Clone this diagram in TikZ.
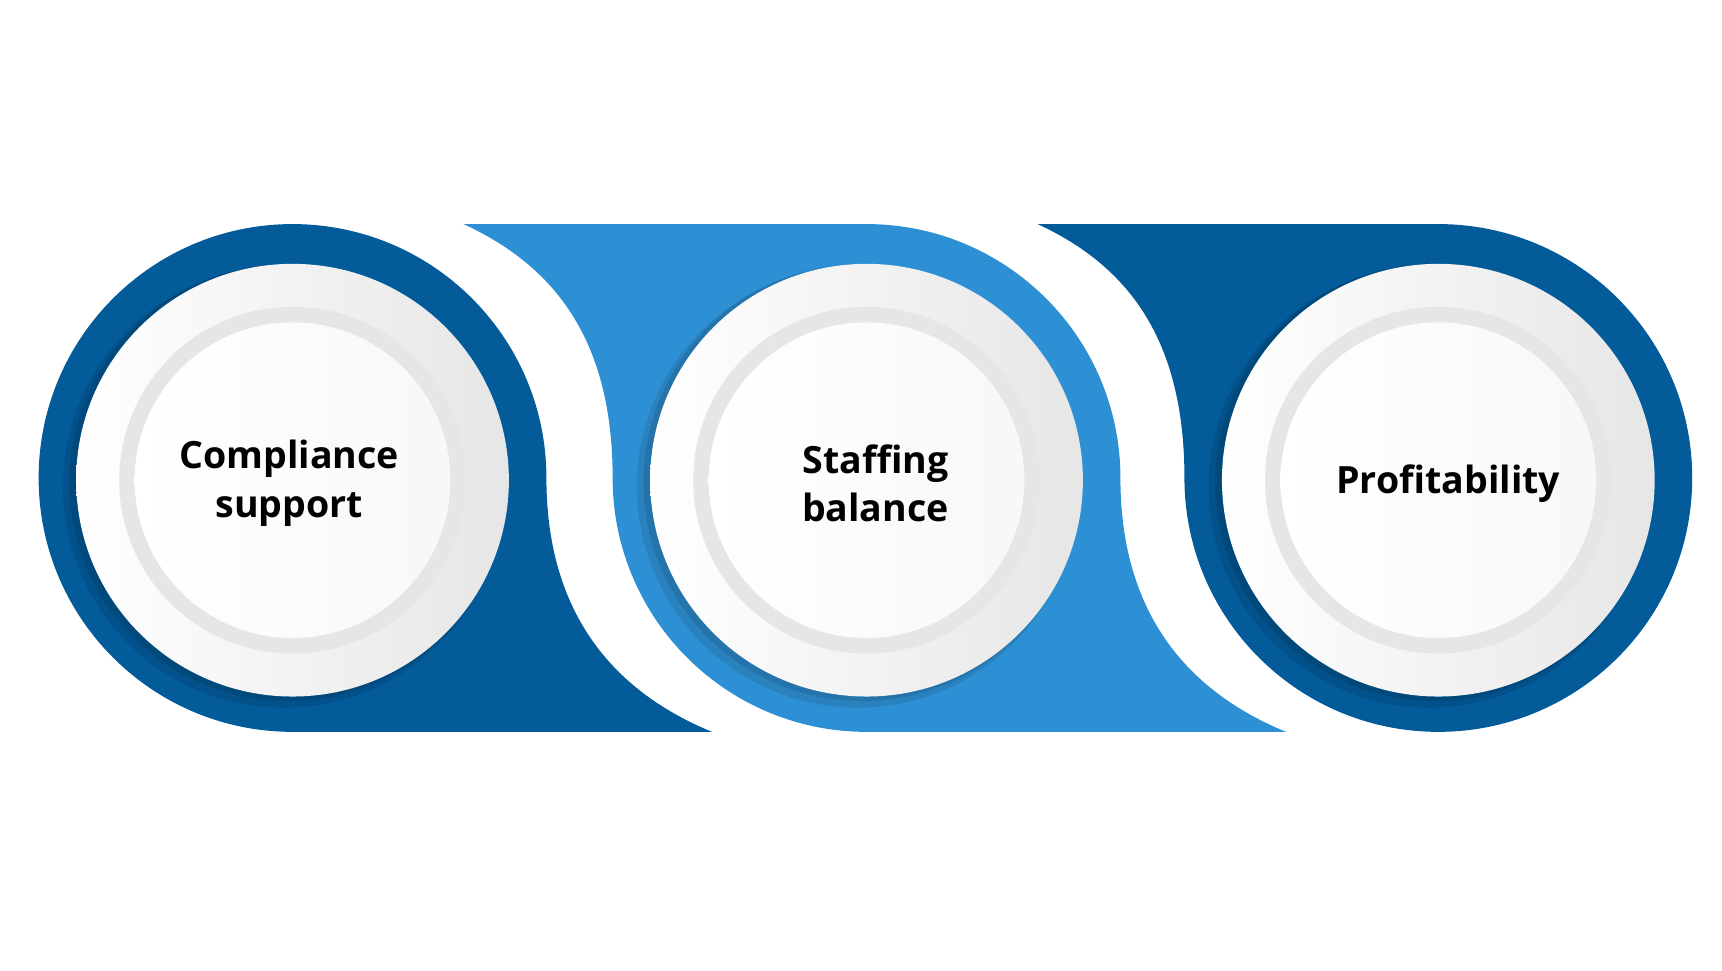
\documentclass[tikz,border=0pt]{standalone}
\usepackage{fontspec}
\setmainfont{Open Sans}
\definecolor{dblue}{HTML}{035B9A}
\definecolor{lblue}{HTML}{2E90D4}
\definecolor{ringgrey}{HTML}{E6E6E6}
\begin{document}
\begin{tikzpicture}[x=1pt,y=-1pt]
\tikzset{lbl/.style={font=\bfseries\fontsize{34}{44}\selectfont,align=center,text=black}}
\useasboundingbox (0,0) rectangle (1560,879);
% band shapes
\fill[dblue] (265,203) arc[start angle=-90,end angle=-270,radius=230] -- (645,663)
  .. controls (560,628) and (495,560) .. (495,433) arc[start angle=0,end angle=-90,radius=230] -- cycle;
\fill[lblue] (420,203) -- (785,203) arc[start angle=-90,end angle=0,radius=230]
  .. controls (1015,560) and (1080,628) .. (1165,663) -- (785,663)
  arc[start angle=90,end angle=180,radius=230]
  .. controls (555,305) and (500,240) .. (420,203) -- cycle;
\fill[dblue] (940,203) -- (1303,203) arc[start angle=-90,end angle=90,radius=230]
  arc[start angle=90,end angle=180,radius=230]
  .. controls (1073,305) and (1020,240) .. (940,203) -- cycle;
% discs
\foreach \cx/\nm in {265/a,785/b,1303/c}{
  \fill[black,opacity=0.10] (\cx-8,441) circle[radius=200];
  \fill[black,opacity=0.10] (\cx-4,437) circle[radius=198];
  \shade[left color=white,right color=ringgrey] (\cx,435) circle[radius=196];
  \fill[ringgrey] (\cx,435) circle[radius=157];
  \shade[left color=white,right color=white!70!ringgrey] (\cx,435) circle[radius=143];
  \coordinate (\nm) at (\cx,435);
}
\node[lbl] (ta) at (262,438) {Compliance\\support};
\node[lbl] (tb) at (793,438) {Staffing\\balance};
\node[lbl] (tc) at (1312,438) {Profitability};
\end{tikzpicture}
\end{document}
